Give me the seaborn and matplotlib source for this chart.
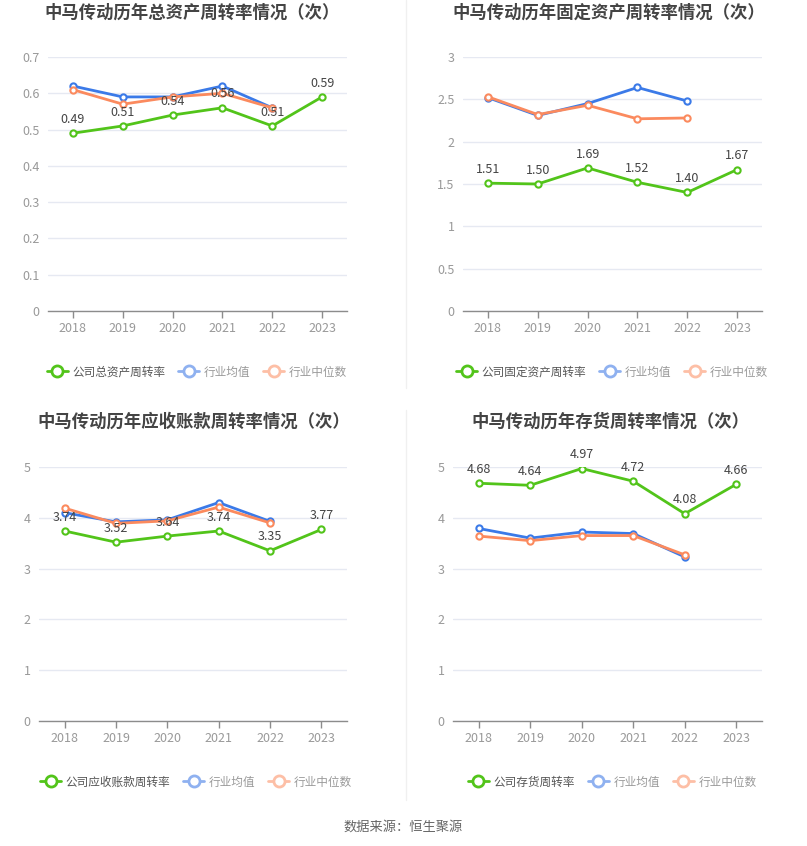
import matplotlib
matplotlib.use("Agg")
import matplotlib.pyplot as plt
from matplotlib.lines import Line2D
import seaborn as sns
import pandas as pd

sns.set_theme(style="white")
plt.rcParams['font.family'] = ['Noto Sans CJK SC', 'DejaVu Sans']

years = [2018, 2019, 2020, 2021, 2022, 2023]
ind_years = [2018, 2019, 2020, 2021, 2022]

# Panel 1: total asset turnover
total_company = [0.49, 0.51, 0.54, 0.56, 0.51, 0.59]
total_avg = [0.62, 0.59, 0.59, 0.62, 0.56]
total_median = [0.61, 0.57, 0.59, 0.60, 0.56]

# Panel 2: fixed asset turnover
fixed_company = [1.51, 1.50, 1.69, 1.52, 1.40, 1.67]
fixed_avg = [2.52, 2.31, 2.45, 2.64, 2.48]
fixed_median = [2.53, 2.32, 2.43, 2.27, 2.28]

# Panel 3: receivables turnover
recv_company = [3.74, 3.52, 3.64, 3.74, 3.35, 3.77]
recv_avg = [4.10, 3.92, 3.96, 4.30, 3.93]
recv_median = [4.19, 3.89, 3.94, 4.21, 3.90]

# Panel 4: inventory turnover
inv_company = [4.68, 4.64, 4.97, 4.72, 4.08, 4.66]
inv_avg = [3.79, 3.60, 3.72, 3.69, 3.23]
inv_median = [3.64, 3.55, 3.65, 3.65, 3.27]

titles = ["中马传动历年总资产周转率情况（次）", "中马传动历年固定资产周转率情况（次）",
          "中马传动历年应收账款周转率情况（次）", "中马传动历年存货周转率情况（次）"]
company_names = ["公司总资产周转率", "公司固定资产周转率", "公司应收账款周转率", "公司存货周转率"]
avg_name = "行业均值"
median_name = "行业中位数"

yticks_list = [[0, 0.1, 0.2, 0.3, 0.4, 0.5, 0.6, 0.7],
               [0, 0.5, 1, 1.5, 2, 2.5, 3],
               [0, 1, 2, 3, 4, 5],
               [0, 1, 2, 3, 4, 5]]
ytick_labels = [["0", "0.1", "0.2", "0.3", "0.4", "0.5", "0.6", "0.7"],
                ["0", "0.5", "1", "1.5", "2", "2.5", "3"],
                ["0", "1", "2", "3", "4", "5"],
                ["0", "1", "2", "3", "4", "5"]]

panels = [(total_company, total_avg, total_median),
          (fixed_company, fixed_avg, fixed_median),
          (recv_company, recv_avg, recv_median),
          (inv_company, inv_avg, inv_median)]

GREEN = '#52c41a'
BLUE = '#3b7ae8'
ORANGE = '#fb8a5e'

W, H = 807, 846
fig = plt.figure(figsize=(W / 100, H / 100), dpi=100)

# axes boxes in pixels: (left, top, right, bottom)
boxes = [(48, 57, 347, 311), (463, 57, 762, 311),
         (39, 467, 347, 721), (453, 467, 762, 721)]
title_pos = [(192, 13), (609, 13), (194, 422), (610, 422)]
legend_pos = [(197, 372), (612, 372), (196, 782), (612, 782)]

for i, (comp, avg, med) in enumerate(panels):
    l, t, r, b = boxes[i]
    ax = fig.add_axes([l / W, 1 - b / H, (r - l) / W, (b - t) / H])
    dfc = pd.DataFrame({'year': years, 'v': comp})
    dfa = pd.DataFrame({'year': ind_years, 'v': avg})
    dfm = pd.DataFrame({'year': ind_years, 'v': med})
    mk = dict(marker='o', markersize=4.5, markerfacecolor='white', markeredgewidth=1.5, linewidth=2)
    sns.lineplot(data=dfa, x='year', y='v', ax=ax, color=BLUE, markeredgecolor=BLUE, zorder=3, **mk)
    sns.lineplot(data=dfm, x='year', y='v', ax=ax, color=ORANGE, markeredgecolor=ORANGE, zorder=4, **mk)
    sns.lineplot(data=dfc, x='year', y='v', ax=ax, color=GREEN, markeredgecolor=GREEN, zorder=5, **mk)
    for x, v in zip(years, comp):
        ax.annotate(f"{v:.2f}", (x, v), xytext=(0, 10), textcoords='offset points',
                    ha='center', va='center', fontsize=9, color='#444444', zorder=6)
    yt = yticks_list[i]
    ax.set_ylim(0, yt[-1])
    ax.set_xlim(2017.5, 2023.5)
    ax.set_yticks(yt)
    ax.set_yticklabels(ytick_labels[i])
    ax.set_xticks(years)
    ax.set_xticklabels([str(y) for y in years])
    ax.set_xlabel('')
    ax.set_ylabel('')
    ax.grid(axis='y', color='#e6e9f2', linewidth=1)
    ax.set_axisbelow(True)
    for s in ['top', 'right', 'left']:
        ax.spines[s].set_visible(False)
    ax.spines['bottom'].set_color('#8c8c8c')
    ax.spines['bottom'].set_linewidth(1)
    ax.tick_params(axis='x', colors='#8c8c8c', labelcolor='#999999', length=5, width=1,
                   labelsize=9, pad=3, direction='out', bottom=True)
    ax.tick_params(axis='y', labelcolor='#999999', length=0, labelsize=9, pad=6)
    ax.set_facecolor('none')

    tx, ty = title_pos[i]
    fig.text(tx / W, 1 - ty / H, titles[i], ha='center', va='center', fontsize=12.5,
             fontweight='bold', color='#444444')

    handles = [
        Line2D([], [], color=GREEN, marker='o', markersize=8, markerfacecolor='white',
               markeredgewidth=2, linewidth=2),
        Line2D([], [], color='#8fb1f0', marker='o', markersize=8, markerfacecolor='white',
               markeredgewidth=2, linewidth=2),
        Line2D([], [], color='#fdbfa6', marker='o', markersize=8, markerfacecolor='white',
               markeredgewidth=2, linewidth=2),
    ]
    lx, ly = legend_pos[i]
    leg = fig.legend(handles, [company_names[i], avg_name, median_name],
                     loc='center', bbox_to_anchor=(lx / W, 1 - ly / H), ncol=3,
                     frameon=False, fontsize=8.4, handlelength=1.8, handletextpad=0.4,
                     columnspacing=1.1)
    texts = leg.get_texts()
    texts[0].set_color('#555555')
    texts[1].set_color('#999999')
    texts[2].set_color('#999999')

# divider line
fig.add_artist(Line2D([406 / W, 406 / W], [1 - 0 / H, 1 - 388 / H], color='#f0f0f0', linewidth=1))
fig.add_artist(Line2D([406 / W, 406 / W], [1 - 410 / H, 1 - 800 / H], color='#f0f0f0', linewidth=1))

fig.text(403 / W, 1 - 827 / H, "数据来源：恒生聚源", ha='center', va='center', fontsize=9.5,
         color='#666666')

fig.savefig('out.png', dpi=100, facecolor='white')
